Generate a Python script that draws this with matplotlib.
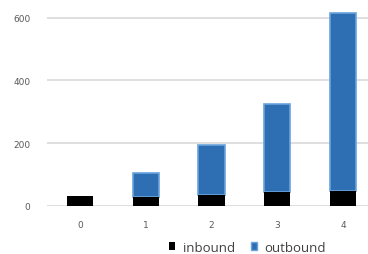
import matplotlib
matplotlib.use("Agg")
import matplotlib.pyplot as plt
import numpy as np

categories = [0, 1, 2, 3, 4]
inbound = [32, 30, 35, 44, 47]
outbound = [0, 75, 159, 281, 568]
y_ticks = [0, 200, 400, 600]

fig = plt.figure(figsize=(3.68, 2.55), dpi=100)
ax = fig.add_axes([47 / 368, 1 - 207 / 255, 1 - 47 / 368, (207 - 3) / 255])

x = np.arange(len(categories))
ax.bar(x, inbound, width=0.4, color="black", zorder=4, label="inbound")
# skip the edge on empty segments, otherwise a blue line shows at the top
lw = [0 if v == 0 else 1.2 for v in outbound]
ax.bar(x, outbound, width=0.4, bottom=inbound, color="#2e6fb3",
       edgecolor="#6aa3dc", linewidth=lw, zorder=3, label="outbound")

ax.set_xlim(-0.5, 4.38)
ax.set_ylim(0, 650)
ax.set_yticks(y_ticks)
ax.set_xticks(x)
ax.set_xticklabels([str(c) for c in categories])
ax.grid(axis="y", color="#d9d9d9", linewidth=1.2, zorder=0)
for s in ax.spines.values():
    s.set_visible(False)
ax.tick_params(length=0, labelsize=6.5, colors="#595959", pad=10)
ax.tick_params(axis="y", pad=12)

leg = fig.legend(loc="lower center", bbox_to_anchor=(0.672, -0.045), ncol=2, frameon=False,
                 prop={"family": "Open Sans", "size": 9.5}, handlelength=0.5, handleheight=0.5,
                 handletextpad=0.55, columnspacing=1.2, labelcolor="#404040")
leg.legend_handles[1].set_linewidth(1.0)

fig.savefig("out.png", dpi=100)
